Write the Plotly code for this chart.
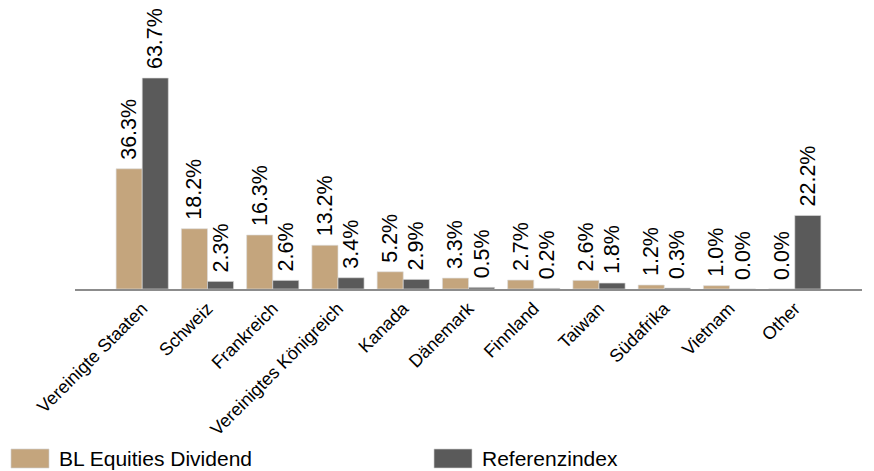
import plotly.graph_objects as go

categories = ["Vereinigte Staaten", "Schweiz", "Frankreich", "Vereinigtes Königreich", "Kanada",
              "Dänemark", "Finnland", "Taiwan", "Südafrika", "Vietnam", "Other"]
fund_values = [36.3, 18.2, 16.3, 13.2, 5.2, 3.3, 2.7, 2.6, 1.2, 1.0, 0.0]
index_values = [63.7, 2.3, 2.6, 3.4, 2.9, 0.5, 0.2, 1.8, 0.3, 0.0, 22.2]
series_names = ["BL Equities Dividend", "Referenzindex"]
colors = ["#C4A57D", "#5A5A5A"]

W, H = 874, 471
ML, MR, MT, MB = 75, 12, 10, 182
plot_w = W - ML - MR
plot_h = H - MT - MB
FONT = "Liberation Sans, Arial, sans-serif"

fig = go.Figure()
for name, vals, col in zip(series_names, [fund_values, index_values], colors):
    fig.add_trace(go.Bar(
        x=list(range(len(categories))), y=vals, name=name,
        marker=dict(color=col, line=dict(color="rgba(220,220,220,0.8)", width=0.8)),
        text=[f"\u00a0{v:.1f}%" for v in vals], textposition="outside", textangle=-90,
        textfont=dict(family=FONT, size=21.5, color="#000000"),
        constraintext="none", cliponaxis=False, showlegend=False,
    ))

fig.update_layout(
    width=W, height=H, margin=dict(l=ML, r=MR, t=MT, b=MB),
    paper_bgcolor="white", plot_bgcolor="white",
    barmode="group", bargap=0.2, bargroupgap=0,
    font=dict(family=FONT, color="#000000"),
    xaxis=dict(tickmode="array", tickvals=list(range(len(categories))), ticktext=categories,
               range=[-1.03, 11.03], tickangle=-45, showgrid=False, zeroline=False,
               showline=True, linecolor="#8C8C8C", linewidth=2, ticks="",
               tickfont=dict(family=FONT, size=18, color="#000000")),
    yaxis=dict(range=[0, plot_h / 3.312], visible=False, showgrid=False, zeroline=False),
)

# custom legend
def px2paper(x, y):
    return (x - ML) / plot_w, (H - MB - y) / plot_h

legend_items = [(11, series_names[0], colors[0]), (434, series_names[1], colors[1])]
for x0, name, col in legend_items:
    ax0, ay0 = px2paper(x0, 449)
    ax1, ay1 = px2paper(x0 + 38, 468)
    fig.add_shape(type="rect", xref="paper", yref="paper", x0=ax0, y0=ay1, x1=ax1, y1=ay0,
                  fillcolor=col, line=dict(color="rgba(210,210,210,0.8)", width=0.8))
    tx, ty = px2paper(x0 + 46, 458.5)
    fig.add_annotation(xref="paper", yref="paper", x=tx, y=ty, text=name, showarrow=False,
                       xanchor="left", yanchor="middle",
                       font=dict(family=FONT, size=21, color="#000000"))

fig.write_html("out.html")
